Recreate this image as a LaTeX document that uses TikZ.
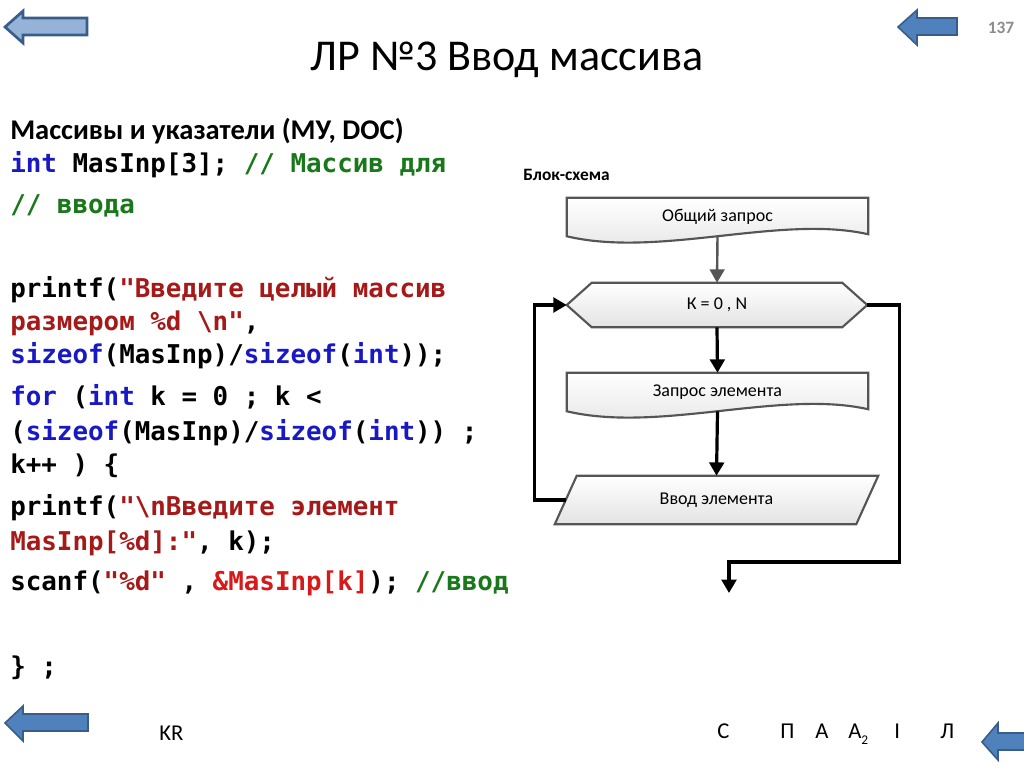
\documentclass[tikz,border=0pt]{standalone}
\usepackage{fontspec}
\setmainfont{Carlito}
\setmonofont{DejaVu Sans Mono}
\usetikzlibrary{arrows.meta,calc,backgrounds}

\definecolor{kwblue}{RGB}{25,25,195}
\definecolor{cmgreen}{RGB}{25,120,25}
\definecolor{strred}{RGB}{165,25,25}
\definecolor{refred}{RGB}{215,25,25}
\definecolor{boxgray}{RGB}{85,85,85}
\definecolor{navlight}{RGB}{149,179,215}
\definecolor{navblue}{RGB}{79,129,189}
\definecolor{navedge}{RGB}{56,93,138}

\newcommand{\kwd}[1]{\textcolor{kwblue}{#1}}
\newcommand{\cmt}[1]{\textcolor{cmgreen}{#1}}
\newcommand{\lit}[1]{\textcolor{strred}{#1}}
\newcommand{\refr}[1]{\textcolor{refred}{#1}}
\newcommand{\codefont}{\fontsize{19.4}{23}\ttfamily\bfseries}

% shapes of the flow chart, drawn round a node
\newcommand{\docshape}[1]{%
  \draw[boxedge] (#1.north west) -- (#1.north east) -- ($(#1.south east)+(0,-2)$)
    .. controls ($(#1.south east)+(-88,-22)$) and ($(#1.south west)+(93,22)$) .. (#1.south west) -- cycle;}
\newcommand{\hexshape}[1]{%
  \draw[boxedge] (#1.west) -- ($(#1.north west)+(25,0)$) -- ($(#1.north east)+(-25,0)$) -- (#1.east)
    -- ($(#1.south east)+(-25,0)$) -- ($(#1.south west)+(25,0)$) -- cycle;}
\newcommand{\ioshape}[1]{%
  \draw[boxedge] ($(#1.north west)+(11,0)$) -- ($(#1.north east)+(11,0)$)
    -- ($(#1.south east)+(-11,0)$) -- ($(#1.south west)+(-11,0)$) -- cycle;}

\tikzset{
  codeline/.style={anchor=base west, inner sep=0pt, font=\codefont},
  flowtext/.style={inner sep=0pt, font=\fontsize{13.5}{16}\selectfont},
  foottext/.style={anchor=base west, inner sep=0pt, font=\fontsize{17}{20}\selectfont},
  boxedge/.style={draw=boxgray, line width=1.6pt, top color=white, bottom color=black!11},
  flowline/.style={line width=2.4pt, -{Triangle[length=10pt,width=11pt]}},
  navarrow/.style={draw=navedge, fill=navblue, line width=1.2pt}
}

\begin{document}
\begin{tikzpicture}[x=0.75pt, y=-0.75pt]
  \useasboundingbox (0,0) rectangle (1024,767);

  % navigation arrows
  \filldraw[navarrow, fill=navlight, line width=2pt] (5,27) -- (23,11) -- (23,18) -- (87,18) -- (87,35) -- (23,35) -- (23,43) -- cycle;
  \filldraw[navarrow] (898,27) -- (917,10) -- (917,18) -- (957,18) -- (957,35) -- (917,35) -- (917,45) -- cycle;
  \filldraw[navarrow] (5,723) -- (23,706) -- (23,714) -- (88,714) -- (88,731) -- (23,731) -- (23,741) -- cycle;
  \filldraw[navarrow] (982,742) -- (998,723) -- (998,733) -- (1030,733) -- (1030,750) -- (998,750) -- (998,760) -- cycle;

  % title
  \node (title) [anchor=base, inner sep=0pt, font=\fontsize{33}{40}\selectfont] at (507,71) {ЛР №3 Ввод массива};
  \node (pagenum) [inner sep=0pt, text=black!45, font=\fontsize{13}{15}\selectfont\bfseries] at (1001,28) {137};

  % program text
  \node (sub) [anchor=base west, inner sep=0pt, font=\fontsize{21.4}{25}\selectfont\bfseries] at (10,139) {Массивы и указатели (МУ, DOC)};
  \node (c1)  [codeline] at (10,172) {\kwd{int} MasInp[3]; \cmt{// Массив для}};
  \node (c2)  [codeline] at (10,213) {\cmt{// ввода}};
  \node (c3)  [codeline] at (10,297) {printf(\lit{"Введите целый массив}};
  \node (c4)  [codeline] at (10,330) {\lit{размером \%d \textbackslash n"},};
  \node (c5)  [codeline] at (10,363) {\kwd{sizeof}(MasInp)/\kwd{sizeof}(\kwd{int}));};
  \node (c6)  [codeline] at (10,405) {\kwd{for} (\kwd{int} k = 0 ; k <};
  \node (c7)  [codeline] at (10,440) {(\kwd{sizeof}(MasInp)/\kwd{sizeof}(\kwd{int})) ;};
  \node (c8)  [codeline] at (10,473) {k++ ) \{};
  \node (c9)  [codeline] at (10,515) {printf(\lit{"\textbackslash nВведите элемент}};
  \node (c10) [codeline] at (10,550) {\lit{MasInp[\%d]:"}, k);};
  \node (c11) [codeline] at (10,590) {scanf(\lit{"\%d"} , \refr{\&MasInp[k]}); \cmt{//ввод}};
  \node (c12) [codeline] at (10,675) {\} ;};

  % flow chart
  \node (head) [anchor=base west, inner sep=0pt, font=\fontsize{13}{15}\selectfont\bfseries] at (523,180) {Блок-схема};
  \node (ask)  [flowtext, minimum width=225.75pt, minimum height=28.5pt] at (717.5,217) {Общий запрос};
  \node (loop) [flowtext, minimum width=225pt, minimum height=33pt] at (717,305) {К = 0 , N};
  \node (askel)[flowtext, minimum width=225.75pt, minimum height=28.5pt] at (717.5,392) {Запрос элемента};
  \node (inel) [flowtext, minimum width=225.75pt, minimum height=36pt] at (716.5,500) {Ввод элемента};
  \coordinate (exit) at (729,593);

  \begin{scope}[on background layer]
    \docshape{ask}
    \hexshape{loop}
    \docshape{askel}
    \ioshape{inel}
  \end{scope}

  \draw[flowline, boxgray, line width=1.8pt] (ask.south) -- (loop.north);
  \draw[flowline] (loop.south) -- (askel.north);
  \draw[flowline] (askel.south) -- (inel.north);
  \draw[flowline] (inel.west) -- ++(-31,0) |- (loop.west);
  \draw[flowline] (loop.east) -- ++(32,0) -- ++(0,257) -| (exit);

  % footer
  \node (kr) [foottext] at (159,740) {KR};
  \node (f1) [foottext] at (717,738) {С};
  \node (f2) [foottext] at (780,738) {П};
  \node (f3) [foottext] at (815,738) {А};
  \node (f4) [foottext] at (848,738) {А\raisebox{-0.6ex}{\fontsize{10}{12}\selectfont 2}};
  \node (f5) [foottext] at (894,738) {I};
  \node (f6) [foottext] at (940,738) {Л};
\end{tikzpicture}
\end{document}
